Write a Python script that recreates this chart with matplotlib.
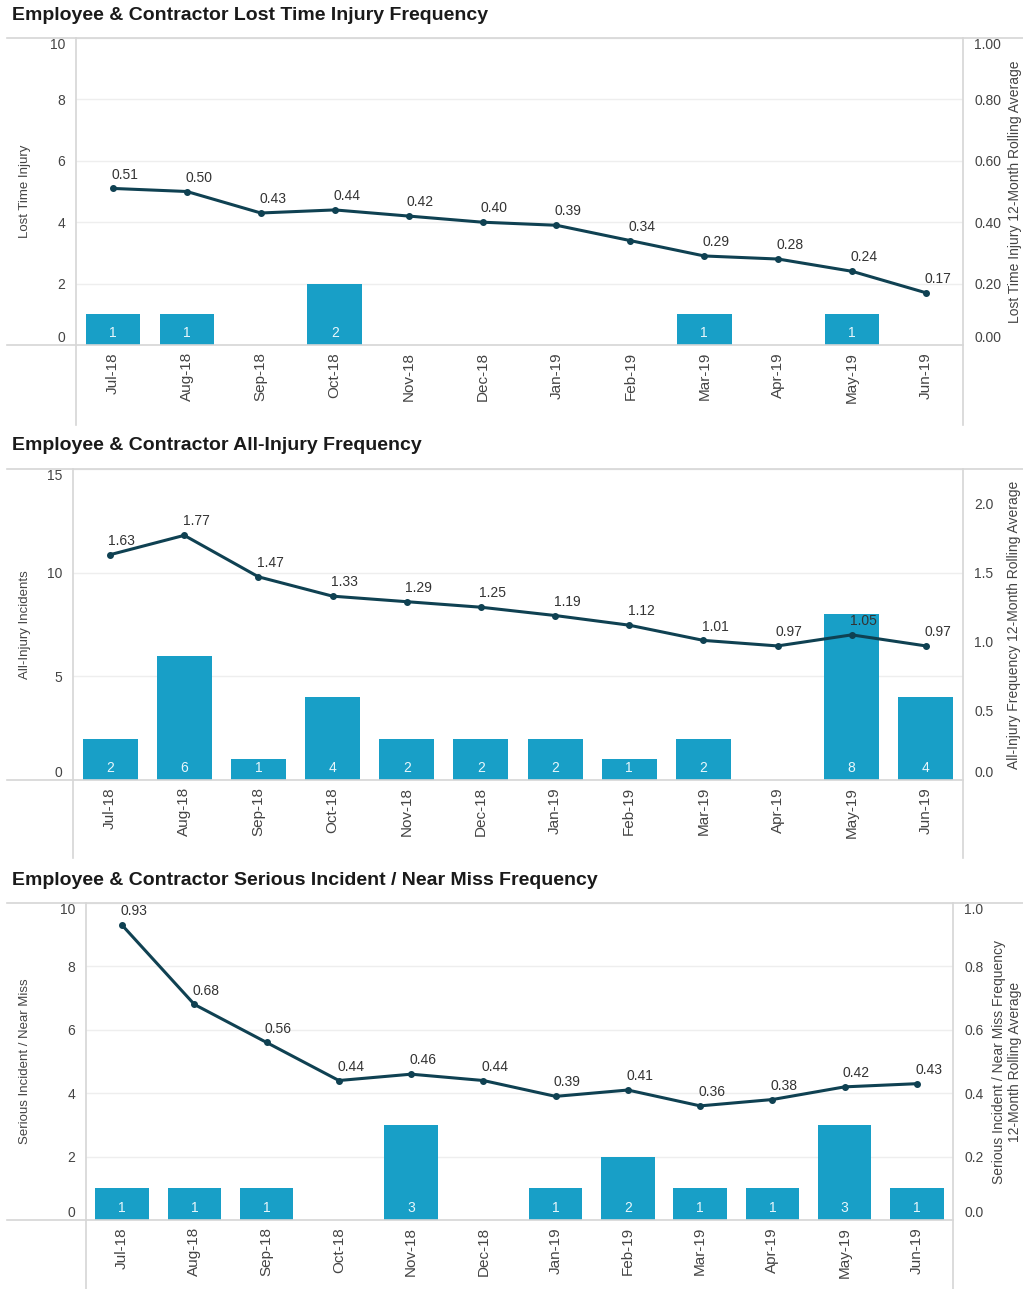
import numpy as np
import matplotlib
matplotlib.use('Agg')
import matplotlib.pyplot as plt
from matplotlib.lines import Line2D

# data
months = ['Jul-18', 'Aug-18', 'Sep-18', 'Oct-18', 'Nov-18', 'Dec-18',
          'Jan-19', 'Feb-19', 'Mar-19', 'Apr-19', 'May-19', 'Jun-19']

lti_counts = [1, 1, 0, 2, 0, 0, 0, 0, 1, 0, 1, 0]
lti_rolling = [0.51, 0.50, 0.43, 0.44, 0.42, 0.40, 0.39, 0.34, 0.29, 0.28, 0.24, 0.17]

all_counts = [2, 6, 1, 4, 2, 2, 2, 1, 2, 0, 8, 4]
all_rolling = [1.63, 1.77, 1.47, 1.33, 1.29, 1.25, 1.19, 1.12, 1.01, 0.97, 1.05, 0.97]

sinm_counts = [1, 1, 1, 0, 3, 0, 1, 2, 1, 1, 3, 1]
sinm_rolling = [0.93, 0.68, 0.56, 0.44, 0.46, 0.44, 0.39, 0.41, 0.36, 0.38, 0.42, 0.43]

# styling
BAR_COLOR = '#189fc7'
LINE_COLOR = '#0f4152'
GRID_COLOR = '#eeeeee'
FRAME_COLOR = '#d6d6d6'
TEXT_COLOR = '#444444'

plt.rcParams['font.family'] = ['Liberation Sans', 'DejaVu Sans']

W, H = 1023, 1289
fig = plt.figure(figsize=(W / 100, H / 100), dpi=100)


def px_rect(x0, y0, x1, y1):
    return [x0 / W, 1 - y1 / H, (x1 - x0) / W, (y1 - y0) / H]


def fig_line(xs, ys):
    fig.add_artist(Line2D(xs, ys, transform=fig.transFigure, color=FRAME_COLOR, lw=1.2))


def nudge_end_labels(labels):
    # first / last tick label sit inside the frame, as in the dashboard
    labels[0].set_va('bottom')
    labels[-1].set_va('top')


def draw_panel(rect, title, counts, rolling, left_ticks, right_max, right_ticks, right_fmt,
               left_label, right_label, right_label_x, bottom_ext):
    ax = fig.add_axes(px_rect(*rect))
    x = np.arange(len(months))

    ax.bar(x, counts, width=0.74, color=BAR_COLOR, zorder=2)
    for xi, c in zip(x, counts):
        if c > 0:
            ax.annotate(str(c), xy=(xi, 0), xytext=(0, 3.5), textcoords='offset points',
                        ha='center', va='bottom', color='#e8f7fc', fontsize=10, zorder=3)

    ax.set_xlim(-0.5, len(months) - 0.5)
    ax.set_ylim(0, left_ticks[-1])
    ax.set_yticks(left_ticks)
    ax.set_yticklabels([str(t) for t in left_ticks])
    ax.set_xticks(x)
    ax.set_xticklabels(months, rotation=90)
    ax.tick_params(axis='y', length=0, pad=8, labelsize=10, labelcolor=TEXT_COLOR)
    ax.tick_params(axis='x', length=0, pad=5, labelsize=11, labelcolor=TEXT_COLOR)
    ax.yaxis.grid(True, color=GRID_COLOR, lw=1)
    ax.set_axisbelow(True)
    for s in ax.spines.values():
        s.set_visible(False)
    nudge_end_labels(ax.get_yticklabels())

    ax2 = ax.twinx()
    ax2.plot(x, rolling, color=LINE_COLOR, lw=2.2, marker='o', markersize=4, zorder=4)
    for xi, v in zip(x, rolling):
        ax2.annotate('{:.2f}'.format(v), xy=(xi, v), xytext=(8.5, 10), textcoords='offset points',
                     ha='center', va='center', color='#333333', fontsize=10)
    ax2.set_ylim(0, right_max)
    ax2.set_yticks(right_ticks)
    ax2.set_yticklabels([right_fmt.format(t) for t in right_ticks])
    ax2.tick_params(axis='y', length=0, pad=8, labelsize=10, labelcolor=TEXT_COLOR)
    for s in ax2.spines.values():
        s.set_visible(False)
    rlabels = ax2.get_yticklabels()
    rlabels[0].set_va('bottom')
    if right_ticks[-1] == right_max:
        rlabels[-1].set_va('top')

    # frame lines that run past the plot area
    pos = ax.get_position()
    fig_line([7 / W, 1], [pos.y1, pos.y1])
    fig_line([7 / W, pos.x1], [pos.y0, pos.y0])
    fig_line([pos.x0, pos.x0], [pos.y1, pos.y0 - bottom_ext / H])
    fig_line([pos.x1, pos.x1], [pos.y1, pos.y0 - bottom_ext / H])

    # titles and axis labels
    mid_y = (pos.y0 + pos.y1) / 2
    fig.text(12 / W, pos.y1 + 23 / H, title, ha='left', va='center',
             fontsize=14, fontweight='bold', color='#1a1a1a')
    fig.text(25 / W, mid_y, left_label, rotation=90, ha='center', va='center',
             fontsize=9.5, color=TEXT_COLOR)
    fig.text(right_label_x / W, mid_y, right_label, rotation=90, ha='center', va='center',
             fontsize=10, color=TEXT_COLOR, linespacing=1.25, multialignment='center')
    return ax


draw_panel((76, 38, 963, 345), 'Employee & Contractor Lost Time Injury Frequency',
           lti_counts, lti_rolling, [0, 2, 4, 6, 8, 10], 1.0,
           [0, 0.2, 0.4, 0.6, 0.8, 1.0], '{:.2f}',
           'Lost Time Injury', 'Lost Time Injury 12-Month Rolling Average', 1015, 80)

draw_panel((73, 469, 963, 780), 'Employee & Contractor All-Injury Frequency',
           all_counts, all_rolling, [0, 5, 10, 15], 2.25,
           [0, 0.5, 1.0, 1.5, 2.0], '{:.1f}',
           'All-Injury Incidents', 'All-Injury Frequency 12-Month Rolling Average', 1014, 78)

draw_panel((86, 903, 953, 1220), 'Employee & Contractor Serious Incident / Near Miss Frequency',
           sinm_counts, sinm_rolling, [0, 2, 4, 6, 8, 10], 1.0,
           [0, 0.2, 0.4, 0.6, 0.8, 1.0], '{:.1f}',
           'Serious Incident / Near Miss',
           'Serious Incident / Near Miss Frequency\n12-Month Rolling Average', 1007, 69)

fig.savefig('out.png', dpi=100)
